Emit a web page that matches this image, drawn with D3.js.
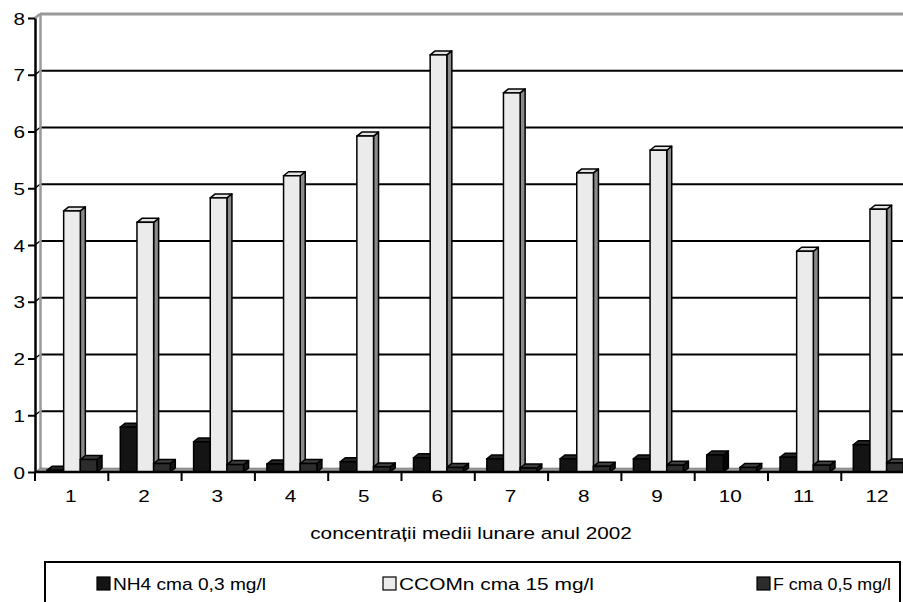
<!DOCTYPE html>
<html>
<head>
<meta charset="utf-8">
<script src="https://cdn.jsdelivr.net/npm/d3@7/dist/d3.min.js"></script>
<style>
  html, body { margin: 0; padding: 0; background: #fff; }
  svg { display: block; font-family: "Liberation Sans", Arial, sans-serif; }
</style>
</head>
<body>
<svg id="chart" width="903" height="602"></svg>
<script>
// ---- data ----
const months = ["1","2","3","4","5","6","7","8","9","10","11","12"];
const seriesNames = ["NH4 cma 0,3 mg/l", "CCOMn cma 15 mg/l", "F cma 0,5 mg/l"];
const nh4   = [0.03, 0.79, 0.53, 0.14, 0.18, 0.25, 0.23, 0.23, 0.23, 0.30, 0.26, 0.48];
const ccomn = [4.60, 4.40, 4.83, 5.22, 5.92, 7.35, 6.68, 5.27, 5.67, null, 3.89, 4.63];
const f     = [0.22, 0.15, 0.13, 0.15, 0.09, 0.08, 0.07, 0.10, 0.12, 0.08, 0.12, 0.16];
const yTicks = [0, 1, 2, 3, 4, 5, 6, 7, 8];
const xTitle = "concentrații medii lunare anul 2002";

// ---- styling / layout ----
const seriesValues = [nh4, ccomn, f];
const faceColors = [
  { front: "#141414", top: "#222222", side: "#050505" },
  { front: "#ebebeb", top: "#e2e2e2", side: "#8a8a8a" },
  { front: "#2c2c2c", top: "#3e3e3e", side: "#161616" }
];
const FS = 17, SX = 1.22;
const legendX = [97, 383, 757];
const legendTextW = [153, 195, 118];

const svg = d3.select("#chart");
const DX = 5, DY = 4;
const x = d3.scaleBand().domain(months).range([35, 914.6]).paddingInner(0).paddingOuter(0);
const xs = d3.scaleBand().domain(seriesNames).range([12, 62]).padding(0);
const y = d3.scaleLinear().domain([0, 8]).range([472, 18]);

function stretchedText(sel, ax, ay, anchor, txt) {
  return sel.append("text")
    .attr("transform", `translate(${ax},${ay}) scale(${SX},1)`)
    .attr("text-anchor", anchor).attr("font-size", FS).attr("fill", "#000").text(txt);
}

// ---- back wall & gridlines ----
const wallL = 35 + DX, wallR = 920;
svg.append("g").selectAll("line.grid")
  .data(yTicks.filter(d => d > 0 && d < 8))
  .join("line")
  .attr("x1", wallL).attr("x2", wallR)
  .attr("y1", d => y(d) - DY).attr("y2", d => y(d) - DY)
  .attr("stroke", "#000").attr("stroke-width", 2);
svg.append("g").selectAll("line.conn")
  .data(yTicks.filter(d => d > 0 && d < 8))
  .join("line")
  .attr("x1", 35).attr("x2", wallL)
  .attr("y1", d => y(d)).attr("y2", d => y(d) - DY)
  .attr("stroke", "#000").attr("stroke-width", 1.5);
svg.append("line")
  .attr("x1", wallL).attr("x2", wallR)
  .attr("y1", y(8) - DY).attr("y2", y(8) - DY)
  .attr("stroke", "#999").attr("stroke-width", 3);
svg.append("line")
  .attr("x1", 35).attr("x2", wallL)
  .attr("y1", y(8)).attr("y2", y(8) - DY)
  .attr("stroke", "#999").attr("stroke-width", 2.5);
svg.append("line")
  .attr("x1", wallL + 0.5).attr("x2", wallL + 0.5)
  .attr("y1", y(8) - DY).attr("y2", y(0) - DY)
  .attr("stroke", "#999").attr("stroke-width", 2.5);

// ---- floor ----
svg.append("polygon")
  .attr("points", [[35, y(0)], [wallL, y(0) - DY], [wallR, y(0) - DY], [wallR, y(0)]].map(p => p.join(",")).join(" "))
  .attr("fill", "#9a9a9a").attr("stroke", "#666").attr("stroke-width", 0.5);

// ---- bars ----
const barsData = [];
months.forEach((m, i) => {
  seriesNames.forEach((s, k) => {
    const v = seriesValues[k][i];
    if (v !== null && v !== undefined) barsData.push({ m, s, k, v });
  });
});
const bars = svg.append("g").selectAll("g.bar").data(barsData).join("g").attr("class", "bar");
const w = xs.bandwidth();
function pts(arr) { return arr.map(p => p.join(",")).join(" "); }
bars.each(function(d) {
  const g = d3.select(this);
  const x0 = x(d.m) + xs(d.s);
  const yt = y(d.v), yb = y(0);
  const c = faceColors[d.k];
  g.append("polygon")
    .attr("points", pts([[x0 + w, yt], [x0 + w + DX, yt - DY], [x0 + w + DX, yb - DY], [x0 + w, yb]]))
    .attr("fill", c.side).attr("stroke", "#000").attr("stroke-width", 1.5).attr("stroke-linejoin", "round");
  g.append("polygon")
    .attr("points", pts([[x0, yt], [x0 + DX, yt - DY], [x0 + w + DX, yt - DY], [x0 + w, yt]]))
    .attr("fill", c.top).attr("stroke", "#000").attr("stroke-width", 1.5).attr("stroke-linejoin", "round");
  g.append("rect")
    .attr("x", x0).attr("y", yt).attr("width", w).attr("height", yb - yt)
    .attr("fill", c.front).attr("stroke", "#000").attr("stroke-width", 1.5);
});

// ---- axes ----
const yAxis = d3.axisLeft(y).tickValues(yTicks).tickSize(7).tickSizeOuter(0).tickPadding(3);
const gy = svg.append("g").attr("transform", "translate(35,0)").call(yAxis);
gy.select(".domain").attr("stroke", "#000").attr("stroke-width", 2.5);
gy.selectAll(".tick line").attr("stroke", "#000").attr("stroke-width", 2);
gy.selectAll(".tick text")
  .attr("x", null).attr("dy", "0.36em")
  .attr("transform", `translate(-10,0) scale(${SX},1)`)
  .attr("font-size", FS).attr("fill", "#000")
  .attr("font-family", "Liberation Sans, Arial, sans-serif");

svg.append("line").attr("x1", 35).attr("x2", 915).attr("y1", y(0)).attr("y2", y(0))
  .attr("stroke", "#000").attr("stroke-width", 2.5);
const bounds = months.map(m => x(m)).concat([x(months[months.length - 1]) + x.bandwidth()]);
svg.append("g").selectAll("line").data(bounds).join("line")
  .attr("x1", d => d).attr("x2", d => d).attr("y1", y(0)).attr("y2", y(0) + 9)
  .attr("stroke", "#000").attr("stroke-width", 2);
const xAxis = d3.axisBottom(x).tickSize(0).tickPadding(0);
const gx = svg.append("g").attr("transform", `translate(0,${y(0)})`).call(xAxis);
gx.select(".domain").remove();
gx.selectAll(".tick text")
  .attr("y", null).attr("dy", null)
  .attr("transform", `translate(-1,29.5) scale(${SX},1)`)
  .attr("font-size", FS).attr("fill", "#000")
  .attr("font-family", "Liberation Sans, Arial, sans-serif");

// x title
stretchedText(svg, 471, 539, "middle", xTitle);

// ---- legend ----
svg.append("rect").attr("x", 45).attr("y", 562).attr("width", 855).attr("height", 60)
  .attr("fill", "#fff").attr("stroke", "#000").attr("stroke-width", 2);
const lg = svg.append("g").selectAll("g").data(seriesNames).join("g")
  .attr("transform", (d, i) => `translate(${legendX[i]},577)`);
lg.append("rect").attr("width", 13).attr("height", 13)
  .attr("fill", (d, i) => faceColors[i].front)
  .attr("stroke", "#000").attr("stroke-width", 1.2);
lg.append("text").attr("x", 16).attr("y", 13).attr("font-size", FS).attr("fill", "#000")
  .attr("textLength", (d, i) => legendTextW[i]).attr("lengthAdjust", "spacingAndGlyphs")
  .text(d => d);
</script>
</body>
</html>
